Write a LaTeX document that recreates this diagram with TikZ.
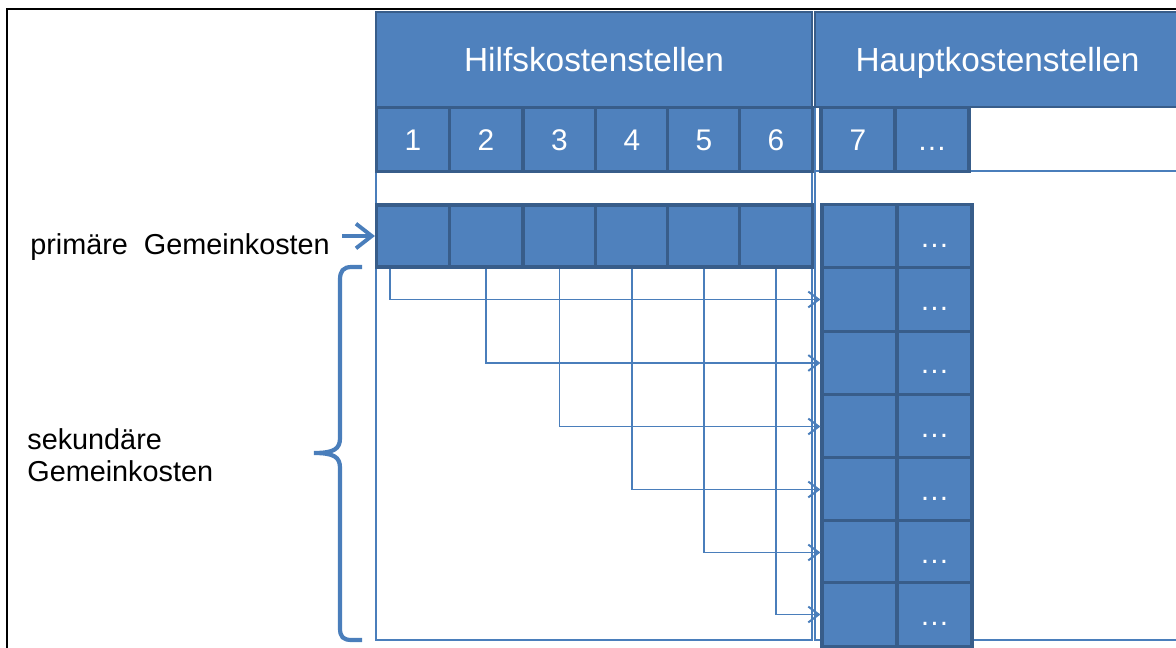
\documentclass[tikz,border=0pt]{standalone}
\usepackage{fontspec}
\setmainfont{Liberation Sans}
\usetikzlibrary{arrows.meta}

\definecolor{kblue}{HTML}{4F81BD}
\definecolor{kdark}{HTML}{385D8A}
\definecolor{kline}{HTML}{4A7EBB}

\tikzset{
  khead/.style={draw=kdark, fill=kblue, line width=0.8pt, text=white,
    minimum height=1.9cm, inner sep=0pt,
    font=\fontsize{19}{22}\selectfont, text height=13.6pt, text depth=0pt},
  kbox/.style={draw=kdark, fill=kblue, line width=1.8pt, text=white,
    minimum width=1.46cm, minimum height=1.27cm, inner sep=0pt,
    font=\fontsize{17}{20}\selectfont, text height=12.2pt, text depth=0pt},
  klabel/.style={inner sep=0pt, text=black, font=\fontsize{16.4}{18.2}\selectfont},
  frameline/.style={draw=kline, line width=0.75pt},
  flowarrow/.style={draw=kline, line width=0.75pt,
    -{Straight Barb[length=6pt,width=9pt,line width=1.1pt]}},
  bigarrow/.style={draw=kline, line width=2.2pt,
    -{Straight Barb[length=9pt,width=14pt]}},
  braceline/.style={draw=kline, line width=2.4pt}
}

\begin{document}
\begin{tikzpicture}[x=0.02cm, y=-0.02cm]
\clip (0,0) rectangle (1176,648);

% outer frame
\draw[line width=1.1pt] (7,700) -- (7,9) -- (1200,9);

% thin column frames
\draw[frameline] (376,60) rectangle (812,640);
\draw[frameline] (815,60) -- (815,640) -- (1200,640);
\draw[frameline] (815,171) -- (1200,171);

% column headings
\node[khead, minimum width=8.72cm] (hilf) at (594,59.5) {Hilfskostenstellen};
\node[khead, minimum width=7.3cm] (haupt) at (997.5,59.5) {Hauptkostenstellen};

% numbered cost centres
\node[kbox] (n1) at (413,139.5) {1};
\node[kbox] (n2) at (486,139.5) {2};
\node[kbox] (n3) at (559.5,139.5) {3};
\node[kbox] (n4) at (632,139.5) {4};
\node[kbox] (n5) at (704,139.5) {5};
\node[kbox] (n6) at (776,139.5) {6};
\node[kbox, minimum width=1.48cm] (n7) at (858,139.5) {7};
\node[kbox, minimum width=1.48cm] (n8) at (932,139.5) {…};

% primary costs
\node[kbox, minimum height=1.24cm] (p1) at (413,236) {};
\node[kbox, minimum height=1.24cm] (p2) at (486,236) {};
\node[kbox, minimum height=1.24cm] (p3) at (559.5,236) {};
\node[kbox, minimum height=1.24cm] (p4) at (632,236) {};
\node[kbox, minimum height=1.24cm] (p5) at (704,236) {};
\node[kbox, minimum height=1.24cm] (p6) at (776,236) {};

% main cost centres, one row per step
\node[kbox, minimum width=1.5cm] (h1) at (859.5,236.5) {};
\node[kbox, minimum width=1.5cm] (h2) at (859.5,299.5) {};
\node[kbox, minimum width=1.5cm] (h3) at (859.5,363) {};
\node[kbox, minimum width=1.5cm] (h4) at (859.5,426.5) {};
\node[kbox, minimum width=1.5cm] (h5) at (859.5,489.5) {};
\node[kbox, minimum width=1.5cm] (h6) at (859.5,552.5) {};
\node[kbox, minimum width=1.5cm] (h7) at (859.5,614.5) {};

\node[kbox, minimum width=1.5cm] (d1) at (934.5,236.5) {…};
\node[kbox, minimum width=1.5cm] (d2) at (934.5,299.5) {…};
\node[kbox, minimum width=1.5cm] (d3) at (934.5,363) {…};
\node[kbox, minimum width=1.5cm] (d4) at (934.5,426.5) {…};
\node[kbox, minimum width=1.5cm] (d5) at (934.5,489.5) {…};
\node[kbox, minimum width=1.5cm] (d6) at (934.5,552.5) {…};
\node[kbox, minimum width=1.5cm] (d7) at (934.5,614.5) {…};

% side labels
\node[klabel, anchor=base west] (prim) at (30,255) {primäre\ \ Gemeinkosten};
\node[klabel, anchor=base west, align=left] (sek) at (27,481)
  {sekundäre\\Gemeinkosten};

\draw[bigarrow, shorten <=7pt] (prim.east |- p1.west) -- (p1.west);

% step-ladder allocation
\draw[flowarrow] ([xshift=0.3cm]p1.south west) |- (h2.west);
\draw[flowarrow] (p2.south) |- (h3.west);
\draw[flowarrow] (p3.south) |- (h4.west);
\draw[flowarrow] (p4.south) |- (h5.west);
\draw[flowarrow] (p5.south) |- (h6.west);
\draw[flowarrow] (p6.south) |- (h7.west);

% curly brace
\draw[braceline] (362,267) -- (352,267)
  .. controls (343,267) and (340,271) .. (340,280) -- (340,438)
  .. controls (340,449) and (334,453) .. (314,453)
  .. controls (334,453) and (340,457) .. (340,468) -- (340,628)
  .. controls (340,637) and (343,640) .. (352,640) -- (362,640);
\end{tikzpicture}
\end{document}
